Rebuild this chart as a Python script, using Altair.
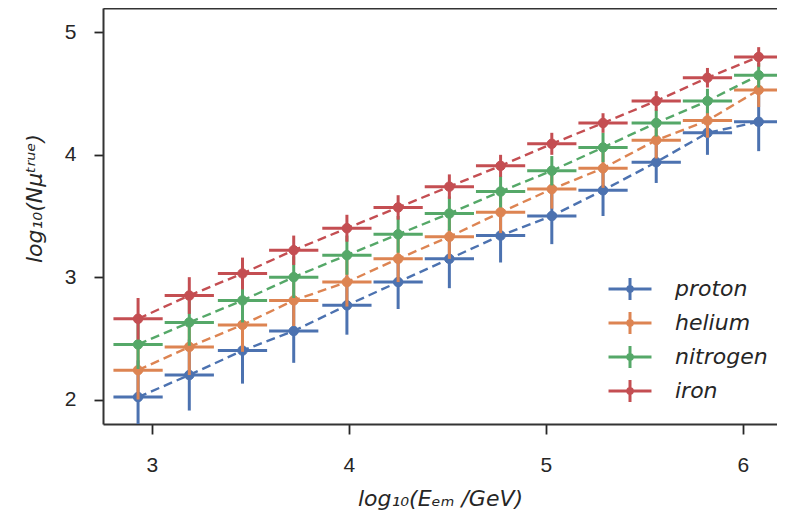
import altair as alt
import pandas as pd

# ---- data ----
energy = [2.93, 3.19, 3.46, 3.72, 3.99, 4.25, 4.51, 4.77, 5.03, 5.29, 5.56, 5.82, 6.08]
energy_halfwidth = 0.125

species = ["proton", "helium", "nitrogen", "iron"]
colors = ["#4C72B0", "#DD8452", "#55A868", "#C44E52"]

proton = [2.02, 2.20, 2.40, 2.56, 2.77, 2.96, 3.15, 3.34, 3.50, 3.71, 3.94, 4.18, 4.27]
helium = [2.24, 2.43, 2.61, 2.81, 2.96, 3.15, 3.33, 3.53, 3.72, 3.89, 4.12, 4.28, 4.53]
nitrogen = [2.45, 2.63, 2.81, 3.00, 3.18, 3.35, 3.52, 3.70, 3.87, 4.06, 4.26, 4.44, 4.65]
iron = [2.66, 2.85, 3.03, 3.22, 3.40, 3.57, 3.74, 3.91, 4.09, 4.26, 4.44, 4.63, 4.80]

proton_err = [0.30, 0.29, 0.27, 0.26, 0.24, 0.22, 0.24, 0.22, 0.23, 0.21, 0.17, 0.18, 0.24]
helium_err = [0.24, 0.23, 0.22, 0.21, 0.20, 0.19, 0.18, 0.17, 0.16, 0.16, 0.15, 0.14, 0.14]
nitrogen_err = [0.20, 0.19, 0.18, 0.17, 0.16, 0.15, 0.14, 0.13, 0.12, 0.12, 0.11, 0.10, 0.10]
iron_err = [0.17, 0.15, 0.13, 0.12, 0.11, 0.10, 0.10, 0.09, 0.09, 0.08, 0.08, 0.08, 0.08]

x_ticks = [3, 4, 5, 6]
y_ticks = [2, 3, 4, 5]

values = {"proton": proton, "helium": helium, "nitrogen": nitrogen, "iron": iron}
errors = {"proton": proton_err, "helium": helium_err, "nitrogen": nitrogen_err, "iron": iron_err}

rows = []
for s in species:
    for xv, yv, ev in zip(energy, values[s], errors[s]):
        rows.append({"species": s, "x": xv, "y": yv,
                     "xlo": xv - energy_halfwidth, "xhi": xv + energy_halfwidth,
                     "ylo": yv - ev, "yhi": yv + ev})
df = pd.DataFrame(rows)

FONT = "Liberation Sans"
TFONT = "DejaVu Sans"
TXT = "#262626"
FRAME = "#333333"

xscale = alt.Scale(domain=[2.752, 6.173], nice=False, zero=False)
yscale = alt.Scale(domain=[1.8, 5.2], nice=False, zero=False)
cscale = alt.Scale(domain=species, range=colors)

xaxis = alt.Axis(values=x_ticks, format="d", title="log₁₀(Eₑₘ /GeV)", grid=False,
                 domain=True, domainColor=FRAME, domainWidth=2,
                 tickSize=10, tickWidth=1.8, tickColor=TXT, labelPadding=20,
                 labelFontSize=21, labelColor=TXT, labelFont=FONT,
                 titleFontSize=22, titleFontStyle="italic", titleFontWeight="normal",
                 titleFont=TFONT, titleColor=TXT, titlePadding=13)
xaxis_top = alt.Axis(orient="top", grid=False, labels=False, ticks=False, title=None,
                     domain=True, domainColor=FRAME, domainWidth=2)
yaxis = alt.Axis(values=y_ticks, format="d", title="log₁₀(Nμᵗʳᵘᵉ)", grid=False,
                 domain=True, domainColor=FRAME, domainWidth=2,
                 tickSize=9, tickWidth=1.8, tickColor=TXT, labelPadding=18,
                 labelFontSize=21, labelColor=TXT, labelFont=FONT,
                 titleFontSize=22, titleFontStyle="italic", titleFontWeight="normal",
                 titleFont=TFONT, titleColor=TXT, titlePadding=18, titleY=190)

legend_symbol = ("M-3.07,0L3.07,0M0,-1.57L0,1.57"
                 "M0.35,0A0.35,0.35,0,1,1,-0.35,0A0.35,0.35,0,1,1,0.35,0Z")
leg = alt.Legend(orient="none", legendX=516, legendY=270, title=None,
                 symbolType=legend_symbol, symbolSize=196, symbolStrokeWidth=3,
                 symbolDash=[1, 0], symbolOpacity=1, labelFontSize=22, labelFontStyle="italic",
                 labelFont=TFONT, labelColor=TXT, labelOffset=34, rowPadding=0)

layers = []
for i, s in enumerate(species):
    b = alt.Chart(df).transform_filter(alt.datum.species == s)
    col = alt.Color("species:N", scale=cscale, sort=species, legend=leg)
    stk = alt.Stroke("species:N", scale=cscale, sort=species, legend=leg)
    xa = xaxis if i == 0 else None
    line = b.mark_line(strokeDash=[9, 5], strokeWidth=2.4, clip=True).encode(
        x=alt.X("x:Q", scale=xscale, axis=xa), y=alt.Y("y:Q", scale=yscale, axis=yaxis),
        color=col)
    vbar = b.mark_rule(strokeWidth=3, clip=True).encode(
        x=alt.X("x:Q", axis=None), y="ylo:Q", y2="yhi:Q", color=col)
    hbar = b.mark_rule(strokeWidth=3, clip=True).encode(
        x=alt.X("xlo:Q", axis=None), x2="xhi:Q", y="y:Q", color=col)
    pts = b.mark_circle(size=90, opacity=1, strokeWidth=1, clip=True).encode(
        x=alt.X("x:Q", axis=None), y="y:Q", color=col, stroke=stk)
    layers += [line, vbar, hbar, pts]

top_frame = alt.Chart(df).mark_point(opacity=0).encode(
    x=alt.X("x:Q", scale=xscale, axis=xaxis_top), y=alt.Y("y:Q", scale=yscale))
layers.append(top_frame)

chart = alt.layer(*layers).resolve_axis(x="independent").properties(
    width=674, height=416,
    background="white",
    autosize=alt.AutoSizeParams(type="none"),
    padding={"left": 95, "top": 0, "right": 0, "bottom": 90},
).configure_view(strokeWidth=0)

chart.save("out.html", embed_options={"renderer": "svg", "actions": False})
